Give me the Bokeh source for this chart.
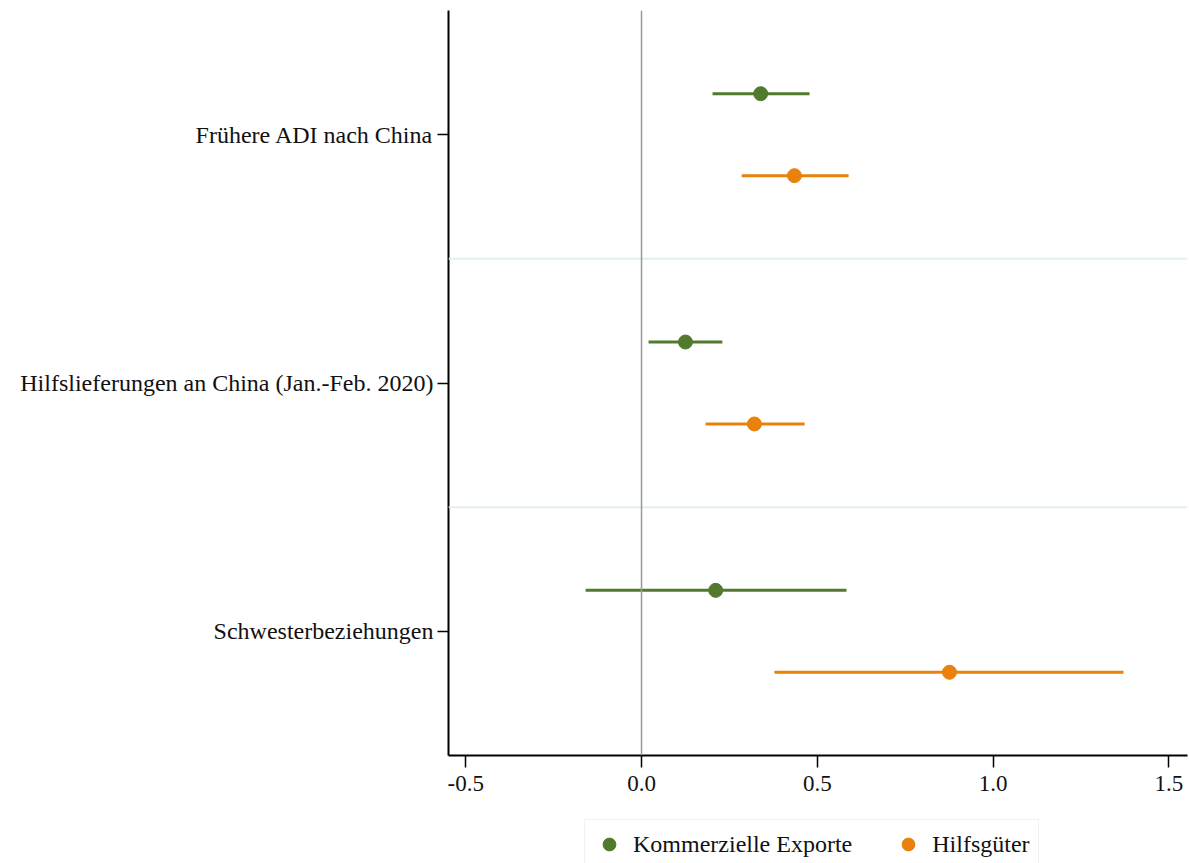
from bokeh.plotting import figure
from bokeh.layouts import column
from bokeh.models import ColumnDataSource, FixedTicker, Legend, LegendItem, Span
from bokeh.embed import file_html
from bokeh.resources import INLINE

categories = ["Frühere ADI nach China", "Hilfslieferungen an China (Jan.-Feb. 2020)", "Schwesterbeziehungen"]
cat_pos = [3, 2, 1]
exp_est = [0.339, 0.125, 0.211]
exp_lo = [0.202, 0.020, -0.159]
exp_hi = [0.478, 0.230, 0.583]
aid_est = [0.435, 0.321, 0.876]
aid_lo = [0.285, 0.182, 0.378]
aid_hi = [0.589, 0.464, 1.371]
series_names = ["Kommerzielle Exporte", "Hilfsgüter"]
x_ticks = [-0.5, 0.0, 0.5, 1.0, 1.5]
x_tick_labels = ["-0.5", "0.0", "0.5", "1.0", "1.5"]

GREEN = "#527a2e"
ORANGE = "#e8820c"
FONT = "Liberation Serif"
offset = 0.165

p = figure(width=1189, height=800, output_backend="svg", toolbar_location=None,
           x_range=(-0.549, 1.553), y_range=(0.5, 3.5),
           min_border_left=448, min_border_right=2, min_border_top=10, min_border_bottom=45)
p.outline_line_color = None
p.xgrid.visible = False
p.ygrid.visible = False
p.background_fill_color = "white"

for yv in [2.5, 1.5]:
    p.add_layout(Span(location=yv, dimension="width", line_color="#e3eeee", line_width=2))
p.add_layout(Span(location=0, dimension="height", line_color="#999999", line_width=1.5))

ye = [c + offset for c in cat_pos]
ya = [c - offset for c in cat_pos]
src_e = ColumnDataSource(dict(y=ye, est=exp_est, lo=exp_lo, hi=exp_hi))
src_a = ColumnDataSource(dict(y=ya, est=aid_est, lo=aid_lo, hi=aid_hi))

p.segment(x0="lo", x1="hi", y0="y", y1="y", source=src_e, line_color=GREEN, line_width=3)
p.segment(x0="lo", x1="hi", y0="y", y1="y", source=src_a, line_color=ORANGE, line_width=3)
p.scatter(x="est", y="y", source=src_e, size=14, fill_color=GREEN, line_color=GREEN)
p.scatter(x="est", y="y", source=src_a, size=14, fill_color=ORANGE, line_color=ORANGE)

# axes
p.xaxis.ticker = FixedTicker(ticks=x_ticks)
p.xaxis.major_label_overrides = {t: l for t, l in zip(x_ticks, x_tick_labels)}
p.yaxis.ticker = FixedTicker(ticks=cat_pos)
p.yaxis.major_label_overrides = {c: n for c, n in zip(cat_pos, categories)}
for ax in (p.xaxis, p.yaxis):
    ax.axis_line_color = "black"
    ax.axis_line_width = 2
    ax.major_tick_line_color = "black"
    ax.major_tick_line_width = 1.5
    ax.major_tick_in = 0
    ax.minor_tick_line_color = None
    ax.major_label_text_font = FONT
    ax.major_label_text_font_size = "24px"
    ax.major_label_text_color = "#111111"
p.xaxis.major_tick_out = 12
p.yaxis.major_tick_out = 11
p.xaxis.major_label_standoff = 8
p.yaxis.major_label_standoff = 4
p.xaxis.major_label_text_font_size = "23px"

# legend strip below the plot (legend-only renderers, placed outside the visible range)
lg = figure(width=1189, height=63, output_backend="svg", toolbar_location=None,
            x_range=(0, 1), y_range=(0, 1), min_border=0)
lg.axis.visible = False
lg.grid.visible = False
lg.outline_line_color = None
le = lg.scatter(x=[-10], y=[-10], size=14, fill_color=GREEN, line_color=GREEN)
la = lg.scatter(x=[-10], y=[-10], size=14, fill_color=ORANGE, line_color=ORANGE)
legend = Legend(items=[LegendItem(label=series_names[0], renderers=[le]),
                       LegendItem(label=series_names[1], renderers=[la])],
                orientation="horizontal", location=(136, -6),
                label_text_font=FONT, label_text_font_size="24px", label_text_color="#111111",
                border_line_color="#e6e6e6", border_line_width=1.5,
                padding=8, spacing=40, glyph_width=32, glyph_height=32, label_standoff=8,
                margin=0, background_fill_color="white")
lg.add_layout(legend, "center")

layout = column(p, lg, spacing=0)
open("out.html", "w").write(file_html(layout, INLINE))
